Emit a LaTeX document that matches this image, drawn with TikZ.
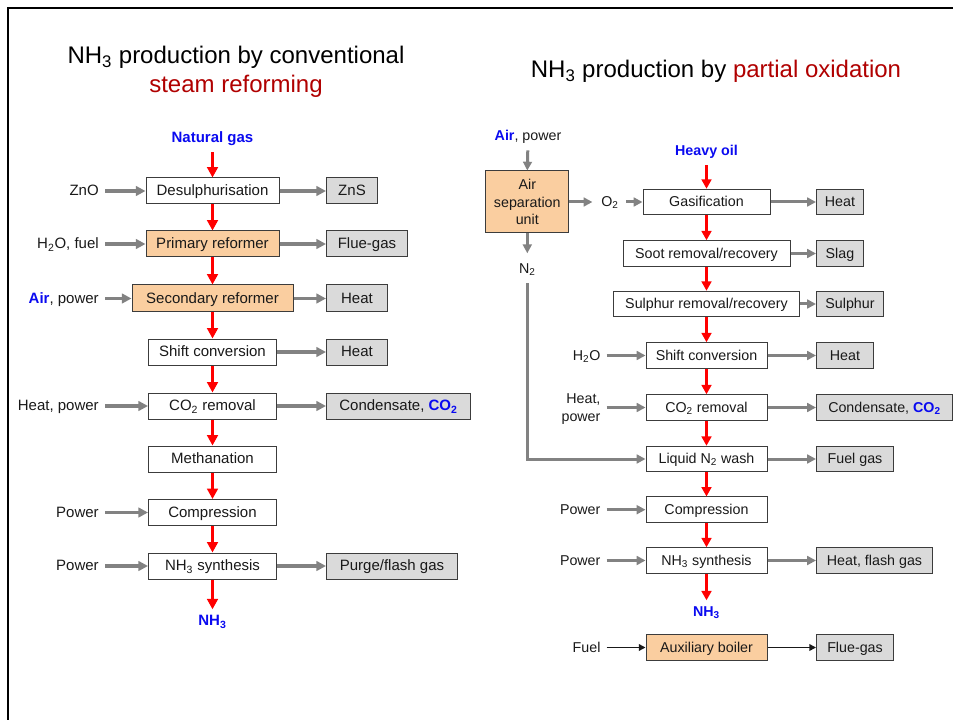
\documentclass[tikz,border=0pt]{standalone}
\usepackage{fontspec}
\setmainfont{Liberation Sans}
\usetikzlibrary{arrows.meta}
\newdimen\upx \upx=0.75pt
\definecolor{dred}{RGB}{176,0,0}
\definecolor{boxtan}{RGB}{250,206,160}
\definecolor{boxgray}{RGB}{218,218,218}
\definecolor{arrgray}{RGB}{130,130,130}
\definecolor{edge}{RGB}{60,60,60}
\definecolor{ink}{RGB}{25,25,25}
\definecolor{tblue}{RGB}{10,10,240}
\tikzset{
  lfont/.style={font=\fontsize{11.25}{13}\selectfont},
  rfont/.style={font=\fontsize{10.7}{13.3}\selectfont},
  capc/.style={text height=0.716em, text depth=0pt},
  lbox/.style={draw=edge, line width=1\upx, fill=white, minimum height=26\upx, inner sep=0pt, text=ink, lfont, capc},
  rbox/.style={lbox, minimum height=25.5\upx, rfont},
  tanbox/.style={fill=boxtan},
  graybox/.style={fill=boxgray},
  lbl/.style={inner sep=0pt, text=ink, capc},
  redarr/.style={draw=red, line width=3.4\upx, -{Triangle[length=7.8pt,width=8pt]}},
  redarrR/.style={draw=red, line width=3\upx, -{Triangle[length=7pt,width=7.3pt]}},
  grayarr/.style={draw=arrgray, line width=3.6\upx, -{Triangle[length=7.2pt,width=7.2pt]}},
  grayarrR/.style={draw=arrgray, line width=3\upx, -{Triangle[length=6.6pt,width=6.6pt]}},
  blackarr/.style={draw=ink, line width=1.4\upx, -{Triangle[length=5pt,width=5pt]}},
  inshort/.style={shorten <=4.5pt},
}
\begin{document}
\begin{tikzpicture}[x=0.75pt,y=-0.75pt]
\useasboundingbox (0,0) rectangle (953,720);
\draw[line width=2.6\upx, black] (953,8) -- (8,8) -- (8,720);

% ---------------- Left: conventional steam reforming ----------------
\node[inner sep=0pt, anchor=base, font=\fontsize{18}{21}\selectfont] (tl1) at (236,64) {NH\textsubscript{3} production by conventional};
\node[inner sep=0pt, anchor=base, font=\fontsize{18}{21}\selectfont, text=dred] (tl2) at (236,92.5) {steam reforming};

\node[lbl, text=tblue, font=\fontsize{11.25}{13}\bfseries\selectfont] (ng) at (212.5,138) {Natural gas};

\node[lbox, minimum width=133\upx] (desul) at (212.5,191) {Desulphurisation};
\node[lbox, tanbox, minimum width=133\upx] (prim) at (212.5,244) {Primary reformer};
\node[lbox, tanbox, minimum width=161\upx, minimum height=27\upx] (sec) at (212.5,298.5) {Secondary reformer};
\node[lbox, minimum width=128\upx] (shiftL) at (212.5,352) {Shift conversion};
\node[lbox, minimum width=128\upx] (co2L) at (212.5,406) {CO\textsubscript{2} removal};
\node[lbox, minimum width=128\upx] (meth) at (212.5,459) {Methanation};
\node[lbox, minimum width=128\upx] (compL) at (212.5,512.5) {Compression};
\node[lbox, minimum width=128\upx] (synL) at (212.5,566) {NH\textsubscript{3} synthesis};
\node[lbl, text=tblue, font=\fontsize{11.25}{13}\bfseries\selectfont] (nh3L) at (212.5,621) {NH\textsubscript{3}};

\node[lbox, graybox, anchor=west, minimum width=51\upx] (zns) at (326,191) {ZnS};
\node[lbox, graybox, anchor=west, minimum width=81\upx] (flueL) at (326,244) {Flue-gas};
\node[lbox, graybox, anchor=west, minimum width=61\upx, minimum height=27\upx] (heatL1) at (326,298.5) {Heat};
\node[lbox, graybox, anchor=west, minimum width=61\upx] (heatL2) at (326,352) {Heat};
\node[lbox, graybox, anchor=west, minimum width=144\upx] (condL) at (326,406) {Condensate, \textcolor{tblue}{\bfseries CO\textsubscript{2}}};
\node[lbox, graybox, anchor=west, minimum width=131\upx] (purge) at (326,566) {Purge/flash gas};

\node[lbl, lfont, anchor=east] (zno) at (99,191) {ZnO};
\node[lbl, lfont, anchor=east] (h2of) at (99,244) {H\textsubscript{2}O, fuel};
\node[lbl, lfont, anchor=east] (airpL) at (99,298.5) {\textcolor{tblue}{\bfseries Air}, power};
\node[lbl, lfont, anchor=east] (heatp) at (99,406) {Heat, power};
\node[lbl, lfont, anchor=east] (powL1) at (99,512.5) {Power};
\node[lbl, lfont, anchor=east] (powL2) at (99,566) {Power};

\draw[redarr, shorten <=7pt] (ng.south) -- (desul.north);
\draw[redarr] (desul.south) -- (prim.north);
\draw[redarr] (prim.south) -- (sec.north);
\draw[redarr] (sec.south) -- (shiftL.north);
\draw[redarr] (shiftL.south) -- (co2L.north);
\draw[redarr] (co2L.south) -- (meth.north);
\draw[redarr] (meth.south) -- (compL.north);
\draw[redarr] (compL.south) -- (synL.north);
\draw[redarr, shorten >=5pt] (synL.south) -- (nh3L.north);

\draw[grayarr, inshort] (zno) -- (desul);
\draw[grayarr, inshort] (h2of) -- (prim);
\draw[grayarr, inshort] (airpL) -- (sec);
\draw[grayarr, inshort] (heatp) -- (co2L);
\draw[grayarr, inshort] (powL1) -- (compL);
\draw[grayarr, inshort] (powL2) -- (synL);

\draw[grayarr] (desul) -- (zns);
\draw[grayarr] (prim) -- (flueL);
\draw[grayarr] (sec) -- (heatL1);
\draw[grayarr] (shiftL) -- (heatL2);
\draw[grayarr] (co2L) -- (condL);
\draw[grayarr] (synL) -- (purge);

% ---------------- Right: partial oxidation ----------------
\node[inner sep=0pt, anchor=base, font=\fontsize{18}{21}\selectfont] (tr) at (716,77.5) {NH\textsubscript{3} production by \textcolor{dred}{partial oxidation}};

\node[lbl, rfont] (airpR) at (528,136) {\textcolor{tblue}{\bfseries Air}, power};
\node[draw=edge, line width=1\upx, fill=boxtan, inner sep=0pt, text=ink, rfont, minimum width=83\upx, minimum height=62\upx, align=center] (asu) at (527.3,202) {Air\\separation\\unit};
\node[lbl, rfont] (o2) at (610,202) {O\textsubscript{2}};
\node[lbl, rfont] (n2) at (527.3,269) {N\textsubscript{2}};

\node[lbl, text=tblue, font=\fontsize{10.7}{13}\bfseries\selectfont] (hoil) at (706.5,151) {Heavy oil};

\node[rbox, minimum width=127\upx] (gas) at (706.5,202) {Gasification};
\node[rbox, minimum width=167\upx] (soot) at (706.5,253.5) {Soot removal/recovery};
\node[rbox, minimum width=186\upx] (sulph) at (706.5,304) {Sulphur removal/recovery};
\node[rbox, minimum width=121\upx] (shiftR) at (706.5,355.5) {Shift conversion};
\node[rbox, minimum width=121\upx] (co2R) at (706.5,407.5) {CO\textsubscript{2} removal};
\node[rbox, minimum width=121\upx] (liq) at (706.5,459) {Liquid N\textsubscript{2} wash};
\node[rbox, minimum width=121\upx] (compR) at (706.5,509.7) {Compression};
\node[rbox, minimum width=121\upx] (synR) at (706.5,560.5) {NH\textsubscript{3} synthesis};
\node[lbl, text=tblue, font=\fontsize{10.7}{13}\bfseries\selectfont] (nh3R) at (706.5,612) {NH\textsubscript{3}};
\node[rbox, tanbox, minimum width=121\upx] (aux) at (706.5,647.5) {Auxiliary boiler};

\node[rbox, graybox, anchor=west, minimum width=47\upx] (heatR1) at (816,202) {Heat};
\node[rbox, graybox, anchor=west, minimum width=47\upx] (slag) at (816,253.5) {Slag};
\node[rbox, graybox, anchor=west, minimum width=67\upx] (sulphur) at (816,304) {Sulphur};
\node[rbox, graybox, anchor=west, minimum width=57\upx] (heatR2) at (816,355.5) {Heat};
\node[rbox, graybox, anchor=west, minimum width=136\upx] (condR) at (816,407.5) {Condensate, \textcolor{tblue}{\bfseries CO\textsubscript{2}}};
\node[rbox, graybox, anchor=west, minimum width=77\upx] (fuelgas) at (816,459) {Fuel gas};
\node[rbox, graybox, anchor=west, minimum width=116\upx] (heatflash) at (816,560.5) {Heat, flash gas};
\node[rbox, graybox, anchor=west, minimum width=77\upx] (flueR) at (816,647.5) {Flue-gas};

\node[lbl, rfont, anchor=east] (h2oR) at (600.7,355.5) {H\textsubscript{2}O};
\node[inner sep=0pt, text=ink, rfont, anchor=east, align=right] (heatpR) at (600.7,409) {Heat,\\power};
\node[lbl, rfont, anchor=east] (powR1) at (600.7,509.7) {Power};
\node[lbl, rfont, anchor=east] (powR2) at (600.7,560.5) {Power};
\node[lbl, rfont, anchor=east] (fuel) at (600.7,647.5) {Fuel};

\draw[grayarrR, shorten <=7pt] (airpR.south) -- (asu.north);
\draw[grayarrR, shorten >=6.5pt] (asu.east) -- (o2.west);
\draw[grayarrR, shorten <=5.5pt] (o2.east) -- (gas.west);
\draw[grayarrR, shorten >=8pt] (asu.south) -- (n2.north);
\draw[grayarrR, shorten <=7pt] (n2.south) |- (liq.west);

\draw[redarrR, shorten <=7pt] (hoil.south) -- (gas.north);
\draw[redarrR] (gas.south) -- (soot.north);
\draw[redarrR] (soot.south) -- (sulph.north);
\draw[redarrR] (sulph.south) -- (shiftR.north);
\draw[redarrR] (shiftR.south) -- (co2R.north);
\draw[redarrR] (co2R.south) -- (liq.north);
\draw[redarrR] (liq.south) -- (compR.north);
\draw[redarrR] (compR.south) -- (synR.north);
\draw[redarrR, shorten >=5pt] (synR.south) -- (nh3R.north);

\draw[grayarrR, inshort] (h2oR) -- (shiftR);
\draw[grayarrR, shorten <=4.5pt] (heatpR.east |- co2R.west) -- (co2R.west);
\draw[grayarrR, inshort] (powR1) -- (compR);
\draw[grayarrR, inshort] (powR2) -- (synR);
\draw[blackarr, inshort] (fuel) -- (aux);

\draw[grayarrR] (gas) -- (heatR1);
\draw[grayarrR] (soot) -- (slag);
\draw[grayarrR] (sulph) -- (sulphur);
\draw[grayarrR] (shiftR) -- (heatR2);
\draw[grayarrR] (co2R) -- (condR);
\draw[grayarrR] (liq) -- (fuelgas);
\draw[grayarrR] (synR) -- (heatflash);
\draw[blackarr] (aux) -- (flueR);
\end{tikzpicture}
\end{document}
